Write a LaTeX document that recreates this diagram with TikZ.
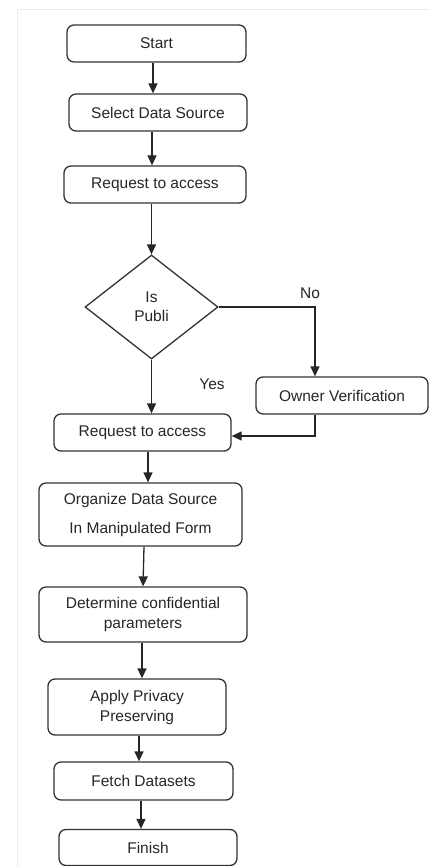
\documentclass[tikz,border=0pt]{standalone}
\usepackage{fontspec}
\setmainfont{Liberation Sans}
\usetikzlibrary{arrows.meta,positioning,shapes.geometric}

\begin{document}
\begin{tikzpicture}[x=1pt, y=-1pt,
    box/.style={rectangle, rounded corners=7pt, draw=black!80, line width=1.3pt, inner sep=0pt, align=center, text=black!85, font=\fontsize{15.5}{20}\selectfont},
    decision/.style={diamond, aspect=1.28, draw=black!80, line width=1.3pt, inner sep=0pt, minimum width=133pt, minimum height=104pt, align=center, text=black!85, font=\fontsize{15.5}{19}\selectfont},
    arrow/.style={-{Triangle[length=10pt,width=9pt]}, line width=1.3pt, draw=black!85},
    lbl/.style={text=black!85, font=\fontsize{15.5}{19}\selectfont}
]
    \useasboundingbox (0,0) rectangle (430,866);
    \draw[black!8, line width=1pt] (17,866) -- (17,10) -- (430,10);

    % Main column
    \node[box, minimum width=179pt, minimum height=37pt] (start) at (156.5,43.5) {Start};
    \node[box, minimum width=178pt, minimum height=37pt] (sel) at (158,112.5) {Select Data Source};
    \node[box, minimum width=182pt, minimum height=37pt] (req) at (155,184.5) {Request to access};
    \node[decision] (dec) at (151.5,307) {Is\\Publi};

    % Side branch
    \node[box, minimum width=172pt, minimum height=37pt] (owner) at (342,395.5) {Owner Verification};

    \node[box, minimum width=177pt, minimum height=37pt] (reqb) at (142.5,432.5) {Request to access};
    \node[box, minimum width=203pt, minimum height=63pt] (org) at (140.5,514.5) {Organize Data Source\\[9pt]In Manipulated Form};
    \node[box, minimum width=208pt, minimum height=55pt] (conf) at (143,614.5) {Determine confidential\\parameters};
    \node[box, minimum width=178pt, minimum height=56pt] (apply) at (137,707) {Apply Privacy\\Preserving};
    \node[box, minimum width=179pt, minimum height=38pt] (fetch) at (143.5,781) {Fetch Datasets};
    \node[box, minimum width=178pt, minimum height=36pt] (finish) at (148,847.5) {Finish};

    % Labels
    \node[lbl] (no) at (310,293) {No};
    \node[lbl] (yes) at (212,384) {Yes};

    % Arrows
    \draw[arrow] ([xshift=-3.5]start.south) -- ([xshift=-3.5]start.south |- sel.north);
    \draw[arrow] ([xshift=-6]sel.south) -- ([xshift=-6]sel.south |- req.north);
    \draw[arrow] (req.south -| dec.north) -- (dec.north);
    \draw[arrow] (dec.east) -| ([xshift=-27]owner.north);
    \draw[arrow] (dec.south) -- (dec.south |- reqb.north);
    \draw[arrow] ([xshift=-27]owner.south) |- ([yshift=-3.5]reqb.east);
    \draw[arrow] ([xshift=5.5]reqb.south) -- ([xshift=5.5]reqb.south |- org.north);
    \draw[arrow] ([xshift=3.5]org.south) -- (conf.north);
    \draw[arrow] ([xshift=-1]conf.south) -- ([xshift=-1]conf.south |- apply.north);
    \draw[arrow] ([xshift=2]apply.south) -- ([xshift=2]apply.south |- fetch.north);
    \draw[arrow] ([xshift=-2.5]fetch.south) -- ([xshift=-2.5]fetch.south |- finish.north);
\end{tikzpicture}
\end{document}
